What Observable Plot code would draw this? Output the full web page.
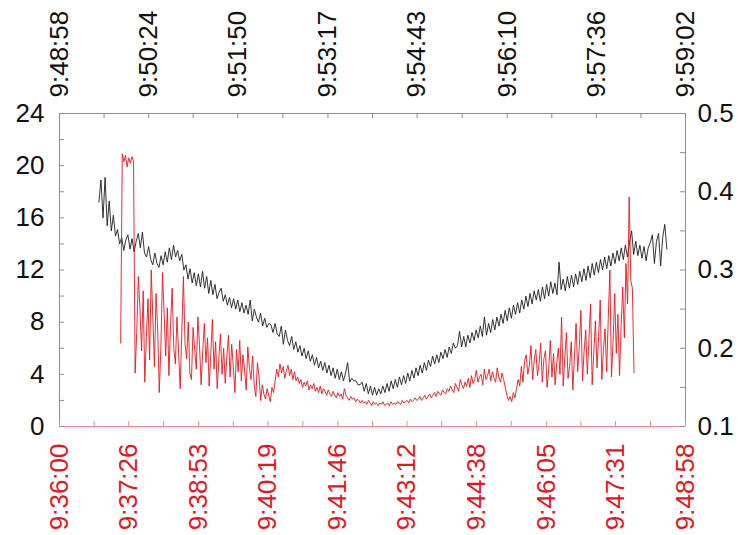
<!DOCTYPE html>
<html><head><meta charset="utf-8">
<script src="https://cdn.jsdelivr.net/npm/d3@7"></script>
<script src="https://cdn.jsdelivr.net/npm/@observablehq/plot@0.6"></script>
<style>
html,body{margin:0;padding:0;background:#fff}
#chart svg{display:block}
</style>
</head><body><div id="chart"></div>
<script>
// ---- data ----
const bottomTicks = ["9:36:00","9:37:26","9:38:53","9:40:19","9:41:46","9:43:12","9:44:38","9:46:05","9:47:31","9:48:58"];
const topTicks = ["9:48:58","9:50:24","9:51:50","9:53:17","9:54:43","9:56:10","9:57:36","9:59:02"];
const leftTicks = [0,4,8,12,16,20,24];
const rightTicks = [0.1,0.2,0.3,0.4,0.5];

// black series (top time axis), one sample every 2 s
const blackStart = "9:49:36";
const blackStep = 2;
const blackValues = [
17.2,18.9,16.0,19.1,15.4,17.3,15.0,16.2,14.6,15.1,14.0,
14.5,13.5,14.3,14.7,13.6,14.4,13.4,14.2,14.8,13.7,
14.9,13.3,13.0,13.8,12.8,
12.4,13.3,12.5,12.2,13.1,12.4,13.4,12.6,13.7,12.8,13.9,13.0,13.5,12.7,13.2,
12.0,12.4,11.3,12.1,11.0,11.8,10.8,11.7,10.7,11.9,
10.6,11.5,10.2,11.2,10.1,10.9,9.8,10.3,10.6,9.6,
10.1,9.3,9.9,9.1,9.8,9.0,9.7,8.8,9.5,8.7,
9.3,8.6,9.7,8.1,9.0,8.4,8.0,8.7,7.7,8.3,
7.6,7.9,7.8,7.2,7.9,7.1,6.9,7.7,6.3,7.4,
6.6,6.2,6.9,5.9,6.5,5.7,6.2,5.4,6.0,5.2,
5.8,5.0,5.5,4.7,5.3,4.5,5.0,4.3,4.9,4.1,
4.7,3.9,4.5,3.7,4.4,3.6,4.2,3.5,4.1,4.9,
3.4,3.7,3.5,3.5,3.2,3.2,3.4,2.7,3.3,2.5,
3.1,2.4,3.0,2.4,2.9,2.5,3.1,2.6,3.3,2.7,
3.5,2.9,3.6,3.0,3.8,3.2,3.9,3.3,4.1,3.5,
4.3,3.7,4.5,3.9,4.7,4.1,4.9,4.3,5.1,4.6,
5.4,4.8,5.5,4.9,5.7,5.2,5.9,5.3,6.1,5.6,
6.4,6.0,6.2,7.3,6.1,6.9,6.1,7.0,6.4,7.2,
6.6,7.4,6.8,7.7,6.9,8.4,7.0,7.9,7.2,8.2,
7.4,8.4,7.7,8.6,7.9,8.9,8.1,9.1,8.3,9.3,
8.6,9.5,8.7,9.7,9.0,10.0,9.2,10.2,9.4,10.4,
9.7,10.5,9.6,10.7,9.8,10.9,10.0,11.1,10.2,11.0,
10.1,12.6,10.5,11.3,10.4,11.5,10.6,11.6,10.7,11.7,
10.9,11.9,11.1,12.1,11.2,12.3,11.4,12.5,11.6,12.6,
11.8,12.8,12.0,13.0,12.1,13.1,12.3,13.3,12.5,13.5,
12.7,13.7,12.8,13.9,13.0,14.1,15.0,13.2,14.2,13.1,
13.9,12.9,13.8,12.7,13.7,14.1,14.7,12.5,14.2,14.8,
12.3,14.5,15.5,13.6
];

// red series (bottom time axis), one sample every 2 s
const redStart = "9:37:16";
const redStep = 2;
const redValues = [
6.4,20.9,20.3,20.8,19.9,20.6,20.2,20.7,20.3,4.1,
7.2,11.5,9.0,5.8,10.4,3.4,6.9,9.8,5.1,12.0,
8.3,4.6,10.2,7.4,2.6,6.1,11.8,8.7,5.4,9.1,
3.9,7.8,10.6,6.0,4.8,8.4,5.7,2.9,7.3,11.5,
6.4,5.2,8.0,4.1,3.6,7.6,5.9,4.4,8.4,6.2,
3.2,5.8,7.9,4.9,6.8,3.1,5.5,8.2,4.4,6.5,
2.9,5.1,7.1,4.0,6.0,3.3,5.4,7.0,3.8,6.3,
4.6,2.6,5.9,4.2,6.6,3.5,5.5,4.3,2.8,6.1,
4.5,3.6,5.4,3.1,2.3,4.9,3.8,2.0,3.2,2.5,
2.1,2.9,2.4,1.9,3.0,2.6,3.5,4.4,3.8,4.8,
4.1,4.6,3.7,4.3,4.7,3.9,4.4,3.6,4.2,3.5,
3.8,3.3,3.6,3.0,3.4,3.1,3.5,2.8,3.2,2.9,
3.3,2.7,3.0,2.6,3.1,2.5,2.9,2.7,2.4,2.8,
2.5,2.3,2.7,2.4,2.2,2.6,2.3,2.5,2.1,2.9,
2.4,2.2,2.0,2.3,2.1,2.2,1.9,2.1,2.0,1.8,
2.0,1.8,1.9,1.7,2.0,1.8,1.6,1.9,1.7,1.8,
1.6,1.8,1.7,1.9,1.6,1.7,1.8,1.6,1.9,1.7,
1.8,1.7,1.9,1.8,1.7,2.0,1.8,1.9,2.0,1.8,
2.1,1.9,2.0,2.2,2.0,2.1,2.3,2.0,2.2,2.4,
2.1,2.3,2.5,2.2,2.4,2.6,2.3,2.7,2.5,2.4,
2.8,2.6,2.5,2.9,2.7,3.1,2.8,2.6,3.3,3.0,
2.7,3.6,3.2,2.9,3.4,3.1,3.7,3.0,3.9,3.3,
3.6,4.3,3.4,3.8,4.0,3.2,4.4,3.6,3.9,4.4,
3.5,4.2,3.7,3.4,4.5,3.8,3.4,4.1,3.6,3.0,
2.4,2.0,2.3,1.9,2.6,2.2,2.9,3.6,3.1,4.6,
3.4,5.0,5.5,4.0,4.7,6.2,3.6,5.1,5.9,3.9,
4.8,6.4,3.4,5.2,5.8,3.0,4.4,6.6,3.8,5.6,
3.2,4.9,6.0,4.0,8.4,3.1,5.3,7.2,3.7,4.6,
6.5,2.8,5.4,7.9,4.2,6.1,8.9,3.5,5.8,7.4,
4.0,6.7,9.4,3.2,5.6,8.1,4.5,6.9,9.7,3.6,
5.9,7.5,4.2,8.3,12.0,3.8,6.6,10.2,5.6,8.6,
3.9,7.7,10.7,6.8,12.5,9.4,17.6,11.2,10.6,4.1
];

// ---- helpers ----
const sec = s => { const [h,m,x] = s.split(":").map(Number); return h*3600+m*60+x; };
const b0 = sec(bottomTicks[0]), b1 = sec(bottomTicks[bottomTicks.length-1]);
const t0 = sec(topTicks[0]), t1 = sec(topTicks[topTicks.length-1]);
const span = b1 - b0;
const topToX = s => (s - t0) / (t1 - t0) * span;
const [r0, r1] = d3.extent(rightTicks);
const [l0, l1] = d3.extent(leftTicks);
const rightToY = v => l0 + (v - r0) / (r1 - r0) * (l1 - l0);

const blackData = blackValues.map((v,i) => ({x: topToX(sec(blackStart) + i*blackStep), y: v}));
const redData = redValues.map((v,i) => ({x: sec(redStart) - b0 + i*redStep, y: v}));

const mids = a => a.slice(1).map((d,i) => (a[i]+d)/2);
const bottomX = bottomTicks.map(d => sec(d) - b0);
const topX = topTicks.map(d => topToX(sec(d)));
const rightY = rightTicks.map(rightToY);

const W = 739, H = 535, mL = 59, mR = 54, mT = 113, mB = 109;
const pW = W - mL - mR, pH = H - mT - mB;
const TL = 5;
const gray = "#8f8f8f", pink = "#ec8b8b", red = "#e8161b";
const font = "Liberation Sans, Arial, Helvetica, sans-serif";
const FS = 26;

const chart = Plot.plot({
  width: W, height: H,
  marginLeft: mL, marginRight: mR, marginTop: mT, marginBottom: mB,
  style: {background: "#fff", fontFamily: font},
  x: {domain: [0, span], axis: null},
  y: {domain: [l0, l1], axis: null},
  marks: [
    Plot.line(blackData, {x: "x", y: "y", stroke: "#1c1c1c", strokeWidth: 0.9}),
    Plot.line(redData, {x: "x", y: "y", stroke: red, strokeWidth: 0.9}),
    // frame
    Plot.ruleY([l1], {stroke: gray, strokeWidth: 1}),
    Plot.ruleX([0], {stroke: gray, strokeWidth: 1}),
    Plot.ruleX([span], {stroke: gray, strokeWidth: 1}),
    Plot.ruleY([l0], {stroke: pink, strokeWidth: 1.2}),
    // inward ticks
    Plot.tickX(bottomX.concat(mids(bottomX)), {x: d => d, stroke: pink, insetTop: pH - TL}),
    Plot.tickX(topX.concat(mids(topX)), {x: d => d, stroke: gray, insetBottom: pH - TL}),
    Plot.tickY(leftTicks.concat(mids(leftTicks)), {y: d => d, stroke: gray, insetRight: pW - TL}),
    Plot.tickY(rightY.concat(mids(rightY)), {y: d => d, stroke: gray, insetLeft: pW - TL}),
    // labels
    Plot.text(bottomTicks, {x: d => sec(d) - b0, text: d => d, frameAnchor: "bottom", rotate: -90,
      textAnchor: "end", lineAnchor: "middle", dy: 17, fill: red, fontSize: FS, fontFamily: font}),
    Plot.text(topTicks, {x: d => topToX(sec(d)), text: d => d, frameAnchor: "top", rotate: -90,
      textAnchor: "start", lineAnchor: "middle", dy: -16, fill: "#111", fontSize: FS, fontFamily: font}),
    Plot.text(leftTicks, {y: d => d, text: d => String(d), frameAnchor: "left", textAnchor: "end",
      lineAnchor: "middle", dx: -15, fill: "#111", fontSize: FS, fontFamily: font}),
    Plot.text(rightTicks, {y: d => rightToY(d), text: d => d.toFixed(1), frameAnchor: "right", textAnchor: "start",
      lineAnchor: "middle", dx: 12, fill: "#111", fontSize: FS, fontFamily: font})
  ]
});
document.getElementById("chart").append(chart);
</script>
</body></html>
